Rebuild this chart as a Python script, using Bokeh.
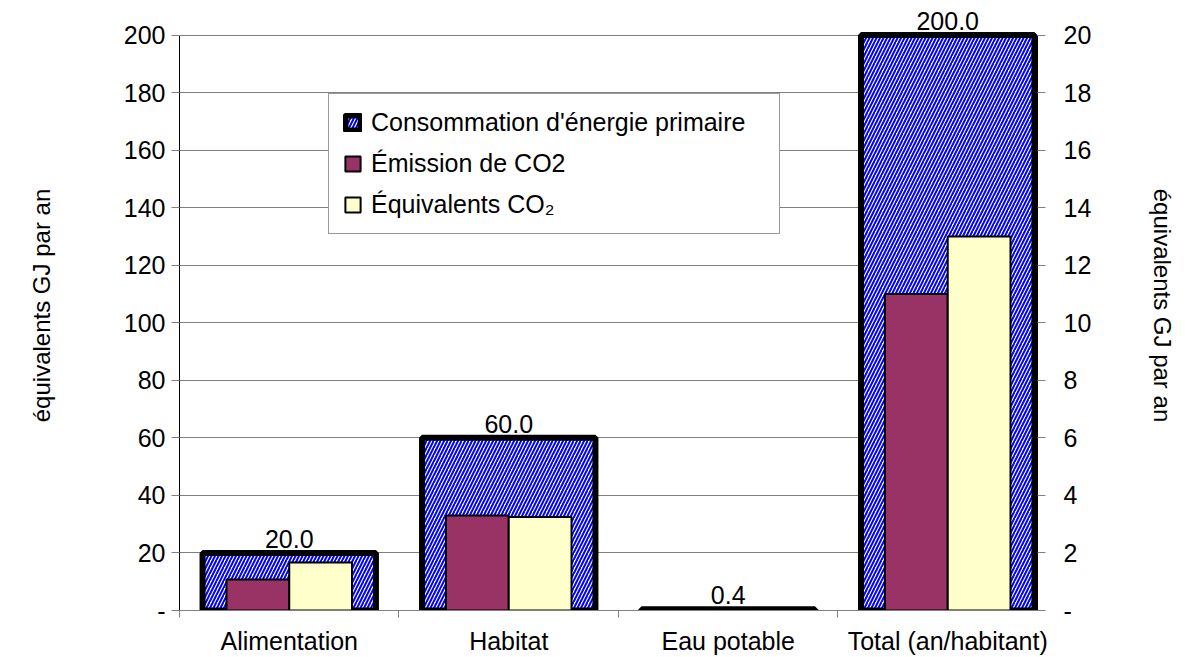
from bokeh.plotting import figure
from bokeh.models import (Range1d, LinearAxis, FixedTicker, ColumnDataSource,
                          LabelSet, Legend, LegendItem, Grid)
from bokeh.core.properties import value
from bokeh.transform import dodge
from bokeh.embed import file_html
from bokeh.resources import INLINE

categories = ["Alimentation", "Habitat", "Eau potable", "Total (an/habitant)"]
energie = [20.0, 60.0, 0.4, 200.0]
emission = [1.08, 3.30, 0.03, 11.0]
equivalents = [1.67, 3.25, 0.03, 13.0]
left_ticks = [0, 20, 40, 60, 80, 100, 120, 140, 160, 180, 200]
right_ticks = [0, 2, 4, 6, 8, 10, 12, 14, 16, 18, 20]
axis_title = "équivalents GJ par an"
legend_labels = ["Consommation d'énergie primaire", "Émission de CO2", "Équivalents CO\u2082"]

FONT = "Liberation Sans"
TICK_FS = "25px"
x = list(range(len(categories)))
src = ColumnDataSource(dict(
    x=x, energie=energie, emission=emission, equivalents=equivalents,
    label=[f"{v:.1f}" for v in energie],
))

p = figure(width=1187, height=657, output_backend="svg", toolbar_location=None,
           x_range=Range1d(-0.5, 3.409), y_range=Range1d(0, 212),
           min_border_left=179, min_border_right=150, min_border_top=0,
           min_border_bottom=47, x_axis_type=None, y_axis_type=None)
p.outline_line_color = None
p.background_fill_color = "white"
p.extra_y_ranges = {"right": Range1d(0, 21.2)}

r_en = p.vbar(x="x", top="energie", width=0.79, source=src,
              fill_color="white", hatch_pattern="/", hatch_color="#0000FF",
              hatch_scale=7, hatch_weight=2, line_color="black", line_width=6)
r_em = p.vbar(x=dodge("x", -0.143, range=p.x_range), top="emission", width=0.286,
              source=src, y_range_name="right", fill_color="#993366",
              line_color="black", line_width=2)
r_eq = p.vbar(x=dodge("x", 0.143, range=p.x_range), top="equivalents", width=0.286,
              source=src, y_range_name="right", fill_color="#FFFFCC",
              line_color="black", line_width=2)

labels = LabelSet(x="x", y="energie", text="label", source=src,
                  text_align="center", text_baseline="bottom", y_offset=5,
                  text_font=value(FONT), text_font_size=TICK_FS, text_color="black")
p.add_layout(labels)

# bottom axis
xa = LinearAxis(ticker=FixedTicker(ticks=x, minor_ticks=[-0.5, 0.5, 1.5, 2.5, 3.5]),
                major_label_overrides={i: c for i, c in zip(x, categories)})
xa.axis_line_color = "#808080"
xa.major_tick_line_color = None
xa.major_tick_out = 0
xa.major_tick_in = 0
xa.minor_tick_out = 7
xa.minor_tick_in = 0
xa.minor_tick_line_color = "#808080"
xa.major_label_standoff = 9
xa.major_label_text_font = FONT
xa.major_label_text_font_size = TICK_FS
xa.major_label_text_color = "black"
p.add_layout(xa, "below")

# left axis
ya = LinearAxis(ticker=FixedTicker(ticks=left_ticks),
                major_label_overrides={0: "-"}, bounds=(0, 200))
ya.axis_line_color = "black"
ya.major_tick_line_color = "#808080"
ya.major_tick_out = 8
ya.major_tick_in = 0
ya.minor_tick_line_color = None
ya.major_label_text_font = FONT
ya.major_label_text_font_size = TICK_FS
ya.major_label_text_color = "black"
ya.major_label_standoff = 6
ya.axis_label = axis_title
ya.axis_label_text_font = FONT
ya.axis_label_text_font_size = "24px"
ya.axis_label_text_font_style = "normal"
ya.axis_label_text_color = "black"
ya.axis_label_standoff = 66
p.add_layout(ya, "left")

# right axis
ra = LinearAxis(y_range_name="right", ticker=FixedTicker(ticks=right_ticks),
                major_label_overrides={0: "-"}, bounds=(0, 20))
ra.axis_line_color = "black"
ra.major_tick_line_color = "#808080"
ra.major_tick_out = 8
ra.major_tick_in = 0
ra.minor_tick_line_color = None
ra.major_label_text_font = FONT
ra.major_label_text_font_size = TICK_FS
ra.major_label_text_color = "black"
ra.major_label_standoff = 18
ra.axis_label = axis_title
ra.axis_label_text_font = FONT
ra.axis_label_text_font_size = "24px"
ra.axis_label_text_font_style = "normal"
ra.axis_label_text_color = "black"
ra.axis_label_standoff = 55
p.add_layout(ra, "right")

p.add_layout(Grid(dimension=1, ticker=ya.ticker, grid_line_color="#808080",
                  grid_line_width=1), "center")

legend = Legend(items=[LegendItem(label=legend_labels[0], renderers=[r_en]),
                       LegendItem(label=legend_labels[1], renderers=[r_em]),
                       LegendItem(label=legend_labels[2], renderers=[r_eq])],
                location=(149, 376))
legend.border_line_color = "#333333"
legend.border_line_width = 1
legend.background_fill_color = "white"
legend.background_fill_alpha = 1
legend.label_text_font = FONT
legend.label_text_font_size = TICK_FS
legend.label_text_color = "black"
legend.glyph_height = 19
legend.glyph_width = 19
legend.padding = 14
legend.spacing = 12
legend.label_standoff = 9
legend.label_width = 394
legend.margin = 0
p.add_layout(legend)

open("out.html", "w").write(file_html(p, INLINE))
